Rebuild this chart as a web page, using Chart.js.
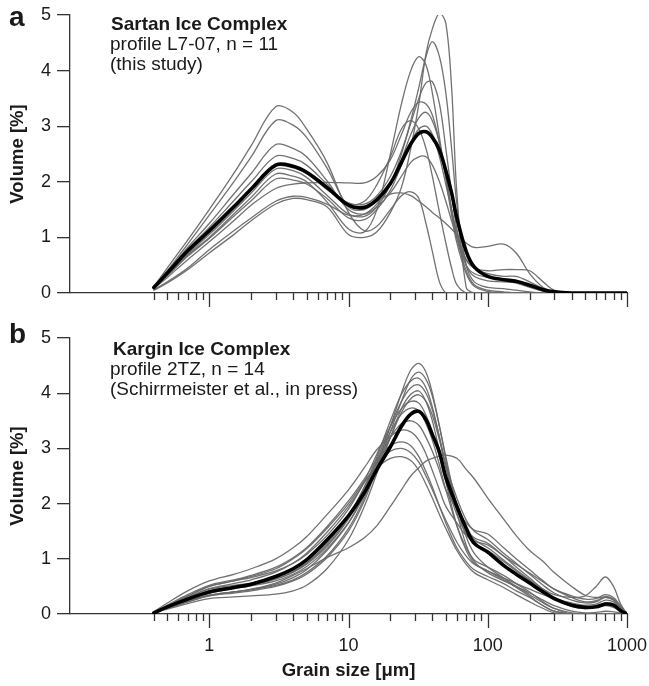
<!DOCTYPE html>
<html><head><meta charset="utf-8">
<script src="https://cdn.jsdelivr.net/npm/chart.js@4.4.1/dist/chart.umd.min.js"></script>
<style>
html,body{margin:0;padding:0;background:#fff;}
#wrap{position:relative;width:649px;height:686px;overflow:hidden;}
canvas{position:absolute;left:0;}
</style></head><body>
<div id="wrap">
<canvas id="ca" width="649" height="320" style="top:0;width:649px;height:320px"></canvas>
<canvas id="cb" width="649" height="366" style="top:320px;width:649px;height:366px"></canvas>
</div>
<script>
// ---------- DATA ----------
const xTickValues = [0.4,0.5,0.6,0.7,0.8,0.9,1,2,3,4,5,6,7,8,9,10,20,30,40,50,60,70,80,90,100,200,300,400,500,600,700,800,900,1000];
const xMajorTicks = [1,10,100,1000];

// Panel a: Sartan Ice Complex
const grainSizesA = [0.4,0.5,0.7,1,1.5,2,3,4,5,7,10,13,16,20,24,28,32,36,40,45,50,55,60,70,80,100,130,160,200,250,300,400,600,1000];
const meanA = [0.1,0.36,0.76,1.12,1.55,1.87,2.3,2.28,2.17,1.9,1.58,1.54,1.68,1.97,2.35,2.68,2.87,2.9,2.8,2.57,2.2,1.8,1.35,0.75,0.47,0.3,0.24,0.21,0.14,0.06,0.02,0,0,0];
const sampleA1 = [0.11,0.45,0.95,1.5,2.15,2.65,3.35,3.25,2.95,2.35,1.45,1.12,1.2,1.5,1.75,1.82,1.7,1.25,0.75,0.2,0,0,0,0,0,0,0,0,0,0,0,0,0,0];
const sampleA2 = [0.1,0.4,0.88,1.4,2.0,2.45,3.1,3.02,2.8,2.25,1.55,1.5,1.65,1.78,1.8,1.75,1.65,1.55,1.45,1.35,1.25,1.15,1.05,0.9,0.82,0.84,0.88,0.72,0.35,0.1,0.02,0,0,0];
const sampleA3 = [0.1,0.38,0.82,1.25,1.78,2.15,2.67,2.6,2.45,2.02,1.5,1.42,1.55,1.8,2.1,2.35,2.45,2.45,2.3,2.0,1.65,1.3,1.0,0.6,0.45,0.35,0.3,0.3,0.2,0.08,0.02,0,0,0];
const sampleA4 = [0.1,0.36,0.78,1.18,1.66,2.0,2.46,2.42,2.3,1.96,1.6,1.65,1.95,2.45,2.95,3.1,2.95,2.6,2.1,1.45,0.9,0.45,0.15,0,0,0,0,0,0,0,0,0,0,0];
const sampleA5 = [0.08,0.28,0.6,0.92,1.3,1.58,1.88,1.96,1.98,1.99,1.98,1.98,2.1,2.4,2.85,3.25,3.43,3.4,3.2,2.7,2.1,1.5,1.0,0.5,0.35,0.28,0.25,0.22,0.12,0.04,0,0,0,0];
const sampleA6 = [0.1,0.34,0.72,1.08,1.52,1.85,2.28,2.25,2.15,1.86,1.62,1.6,1.75,2.1,2.55,3.05,3.5,3.78,3.8,3.4,2.6,1.8,1.15,0.5,0.3,0.22,0.2,0.18,0.1,0.03,0,0,0,0];
const sampleA7 = [0.1,0.33,0.7,1.05,1.48,1.8,2.23,2.2,2.08,1.76,1.42,1.38,1.55,1.95,2.5,3.1,3.7,4.25,4.52,4.25,3.6,2.6,1.6,0.5,0.2,0.1,0.08,0.05,0.02,0,0,0,0,0];
const sampleA8 = [0.1,0.32,0.68,1.0,1.42,1.72,2.14,2.1,2.0,1.64,1.15,1.1,1.5,2.5,3.4,4.0,4.25,4.1,3.6,2.8,2.05,1.4,0.9,0.35,0.12,0.03,0,0,0,0,0,0,0,0];
const sampleA9 = [0.1,0.31,0.66,0.98,1.38,1.66,2.05,2.03,1.96,1.7,1.35,1.32,1.5,1.85,2.3,2.7,2.95,3.0,2.85,2.45,1.95,1.5,1.1,0.6,0.45,0.4,0.42,0.42,0.4,0.2,0.05,0,0,0];
const sampleA10 = [0.06,0.2,0.45,0.78,1.12,1.35,1.65,1.74,1.72,1.6,1.4,1.42,1.6,1.95,2.4,2.85,3.15,3.25,3.1,2.7,2.1,1.5,1.0,0.4,0.15,0.05,0.02,0,0,0,0,0,0,0];
const sampleA11 = [0.05,0.18,0.42,0.72,1.05,1.3,1.6,1.7,1.68,1.55,1.05,1.0,1.1,1.45,1.9,2.6,3.4,4.3,4.75,5.03,4.85,3.7,1.8,0.1,0,0,0,0,0,0,0,0,0,0];
const samplesA = [sampleA1,sampleA2,sampleA3,sampleA4,sampleA5,sampleA6,sampleA7,sampleA8,sampleA9,sampleA10,sampleA11];

// Panel b: Kargin Ice Complex
const grainSizesB = [0.4,0.5,0.7,1,1.5,2,3,4,5,7,10,13,16,20,24,28,32,36,40,45,50,60,70,80,100,130,160,200,250,300,400,500,600,700,800,900,1000];
const meanB = [0.02,0.13,0.27,0.4,0.48,0.54,0.68,0.82,0.98,1.34,1.78,2.2,2.62,3.03,3.4,3.62,3.67,3.52,3.25,2.93,2.48,1.95,1.55,1.28,1.12,0.88,0.72,0.56,0.4,0.28,0.16,0.12,0.13,0.18,0.16,0.06,0];
const sampleB1 = [0.03,0.12,0.24,0.34,0.4,0.44,0.52,0.62,0.75,1.05,1.55,2.1,2.7,3.4,4.0,4.42,4.54,4.38,4.0,3.4,2.8,1.85,1.25,0.95,0.75,0.6,0.5,0.38,0.25,0.15,0.05,0.02,0.03,0.05,0.04,0.02,0];
const sampleB2 = [0.03,0.11,0.23,0.33,0.38,0.42,0.5,0.6,0.72,1.02,1.5,2.05,2.65,3.3,3.85,4.25,4.38,4.25,3.95,3.4,2.85,1.95,1.4,1.1,0.85,0.65,0.5,0.35,0.2,0.1,0.02,0,0,0,0,0,0];
const sampleB3 = [0.03,0.14,0.3,0.45,0.52,0.56,0.66,0.78,0.92,1.25,1.75,2.3,2.85,3.5,3.98,4.22,4.27,4.1,3.75,3.2,2.65,1.95,1.55,1.38,1.28,1.05,0.85,0.65,0.45,0.3,0.18,0.12,0.12,0.15,0.12,0.05,0];
const sampleB4 = [0.03,0.13,0.28,0.42,0.5,0.55,0.64,0.76,0.9,1.22,1.72,2.25,2.8,3.4,3.85,4.1,4.15,4.0,3.7,3.2,2.7,2.0,1.6,1.35,1.2,0.98,0.8,0.62,0.45,0.35,0.3,0.33,0.5,0.67,0.5,0.18,0];
const sampleB5 = [0.02,0.09,0.19,0.28,0.31,0.33,0.36,0.42,0.52,0.82,1.35,1.95,2.55,3.2,3.72,3.98,4.04,3.85,3.5,2.95,2.4,1.6,1.15,0.92,0.78,0.62,0.48,0.32,0.15,0.05,0,0,0,0,0,0,0];
const sampleB6 = [0.03,0.12,0.26,0.38,0.46,0.51,0.6,0.72,0.86,1.18,1.65,2.15,2.65,3.2,3.65,3.9,3.97,3.85,3.6,3.15,2.7,2.1,1.7,1.5,1.35,1.1,0.92,0.72,0.52,0.38,0.25,0.2,0.22,0.3,0.26,0.12,0];
const sampleB7 = [0.03,0.15,0.32,0.5,0.6,0.66,0.78,0.92,1.08,1.42,1.9,2.4,2.9,3.4,3.72,3.85,3.82,3.6,3.3,2.85,2.4,1.8,1.45,1.28,1.15,0.95,0.78,0.6,0.42,0.28,0.14,0.1,0.13,0.2,0.18,0.08,0];
const sampleB8 = [0.02,0.1,0.22,0.34,0.4,0.44,0.54,0.66,0.8,1.15,1.65,2.2,2.75,3.3,3.62,3.73,3.68,3.45,3.15,2.7,2.25,1.6,1.2,0.98,0.85,0.7,0.55,0.4,0.22,0.1,0,0,0,0,0,0,0];
const sampleB9 = [0.03,0.13,0.27,0.4,0.47,0.52,0.63,0.76,0.92,1.28,1.78,2.3,2.75,3.2,3.45,3.5,3.42,3.2,2.95,2.6,2.25,1.9,1.65,1.52,1.45,1.2,1.0,0.8,0.6,0.45,0.3,0.22,0.24,0.32,0.27,0.12,0];
const sampleB10 = [0.04,0.2,0.42,0.6,0.72,0.82,1.0,1.2,1.4,1.8,2.25,2.65,2.98,3.22,3.33,3.3,3.15,2.9,2.6,2.25,1.95,1.65,1.42,1.32,1.25,1.05,0.9,0.74,0.58,0.45,0.33,0.27,0.28,0.35,0.3,0.15,0];
const sampleB11 = [0.03,0.16,0.35,0.52,0.62,0.7,0.85,1.02,1.2,1.58,2.05,2.45,2.8,3.05,3.12,3.05,2.85,2.58,2.3,1.95,1.65,1.2,0.95,0.8,0.68,0.55,0.42,0.3,0.15,0.05,0,0,0,0,0,0,0];
const sampleB12 = [0.03,0.14,0.3,0.46,0.55,0.62,0.76,0.92,1.1,1.48,1.95,2.38,2.72,2.95,3.0,2.92,2.75,2.5,2.25,1.95,1.7,1.3,1.05,0.9,0.78,0.65,0.55,0.45,0.35,0.28,0.2,0.16,0.18,0.25,0.22,0.1,0];
const sampleB13 = [0.03,0.15,0.33,0.5,0.6,0.68,0.82,1.0,1.18,1.55,2.0,2.4,2.65,2.82,2.85,2.78,2.6,2.35,2.1,1.8,1.55,1.15,0.9,0.75,0.62,0.48,0.35,0.22,0.1,0.02,0,0,0,0,0,0,0];
const sampleB14 = [0.02,0.1,0.22,0.33,0.4,0.45,0.56,0.7,0.82,1.02,1.2,1.38,1.6,1.95,2.25,2.5,2.65,2.77,2.82,2.86,2.88,2.82,2.62,2.45,2.1,1.72,1.42,1.15,0.95,0.75,0.5,0.34,0.3,0.3,0.25,0.12,0];
const samplesB = [sampleB1,sampleB2,sampleB3,sampleB4,sampleB5,sampleB6,sampleB7,sampleB8,sampleB9,sampleB10,sampleB11,sampleB12,sampleB13,sampleB14];

const yTickMax = 5;

// ---------- RENDER ----------
Chart.defaults.font.family = "'Liberation Sans', Arial, Helvetica, sans-serif";
Chart.defaults.color = '#1a1a1a';

const GREY = 'rgba(105,105,105,0.95)';

function buildDatasets(xs, mean, samples) {
  const toPts = arr => xs.map((x, i) => ({ x: x, y: arr[i] }));
  const common = { pointRadius: 0, tension: 0.35, borderJoinStyle: 'round', borderCapStyle: 'round' };
  const ds = [Object.assign({ data: toPts(mean), borderColor: '#000', borderWidth: 3.6 }, common)];
  samples.forEach(s => ds.push(Object.assign({ data: toPts(s), borderColor: GREY, borderWidth: 1.3 }, common)));
  return ds;
}

const decorPlugin = {
  id: 'decor',
  afterDraw(chart, args, opts) {
    const ctx = chart.ctx, xs = chart.scales.x, area = chart.chartArea;
    ctx.save();
    ctx.strokeStyle = '#333'; ctx.lineWidth = 1.3;
    xTickValues.forEach(v => {
      const px = Math.round(xs.getPixelForValue(v)) + 0.5;
      const len = xMajorTicks.includes(v) ? 14 : 7;
      ctx.beginPath(); ctx.moveTo(px, area.bottom); ctx.lineTo(px, area.bottom + len); ctx.stroke();
    });
    ctx.fillStyle = '#1a1a1a'; ctx.textBaseline = 'alphabetic'; ctx.textAlign = 'left';
    (opts.texts || []).forEach(t => { ctx.font = t.font; ctx.fillText(t.text, t.x, t.y); });
    ctx.restore();
  }
};

function makeChart(id, xs, mean, samples, cfg) {
  return new Chart(document.getElementById(id), {
    type: 'line',
    data: { datasets: buildDatasets(xs, mean, samples) },
    plugins: [decorPlugin],
    options: {
      responsive: false, animation: false, devicePixelRatio: 1,
      layout: { padding: { top: cfg.padTop, right: 22, left: 0, bottom: 0 } },
      plugins: { legend: { display: false }, tooltip: { enabled: false }, decor: { texts: cfg.texts } },
      scales: {
        x: {
          type: 'logarithmic', min: 0.1, max: 1000,
          afterFit: s => { s.height = cfg.xHeight; s.paddingLeft = 0; s.paddingRight = 0; },
          afterBuildTicks: s => { s.ticks = xMajorTicks.map(v => ({ value: v })); },
          grid: { display: false, drawTicks: false },
          border: { display: true, color: '#333', width: 1.3 },
          ticks: { display: cfg.showX, autoSkip: false, maxRotation: 0, minRotation: 0, padding: 21,
                   font: { size: 18 }, color: '#1a1a1a', callback: v => String(v) },
          title: { display: cfg.showX, text: 'Grain size [μm]', font: { size: 18.5, weight: 'bold' },
                   color: '#1a1a1a', padding: { top: 0, bottom: 4 } }
        },
        y: {
          min: 0, max: yTickMax,
          afterFit: s => { s.width = 70; s.paddingTop = 0; s.paddingBottom = 0; },
          grid: { drawOnChartArea: false, drawTicks: true, tickLength: 13, color: '#333', lineWidth: 1.3 },
          border: { display: true, color: '#333', width: 1.3 },
          ticks: { stepSize: 1, padding: 6, font: { size: 18 }, color: '#1a1a1a' },
          title: { display: true, text: 'Volume [%]', font: { size: 18.5, weight: 'bold' },
                   color: '#1a1a1a', padding: { top: 7, bottom: 0 } }
        }
      }
    }
  });
}

makeChart('ca', grainSizesA, meanA, samplesA, {
  padTop: 15, xHeight: 27, showX: false,
  texts: [
    { text: 'a', x: 9, y: 26, font: "bold 28px 'Liberation Sans', Arial, sans-serif" },
    { text: 'Sartan Ice Complex', x: 111, y: 30, font: "bold 19px 'Liberation Sans', Arial, sans-serif" },
    { text: 'profile L7-07, n = 11', x: 110, y: 50, font: "19px 'Liberation Sans', Arial, sans-serif" },
    { text: '(this study)', x: 110, y: 70, font: "19px 'Liberation Sans', Arial, sans-serif" }
  ]
});

makeChart('cb', grainSizesB, meanB, samplesB, {
  padTop: 18, xHeight: 72, showX: true,
  texts: [
    { text: 'b', x: 9, y: 23, font: "bold 28px 'Liberation Sans', Arial, sans-serif" },
    { text: 'Kargin Ice Complex', x: 113, y: 35, font: "bold 19px 'Liberation Sans', Arial, sans-serif" },
    { text: 'profile 2TZ, n = 14', x: 110, y: 55, font: "19px 'Liberation Sans', Arial, sans-serif" },
    { text: '(Schirrmeister et al., in press)', x: 110, y: 75, font: "19px 'Liberation Sans', Arial, sans-serif" }
  ]
});
</script>
</body></html>
